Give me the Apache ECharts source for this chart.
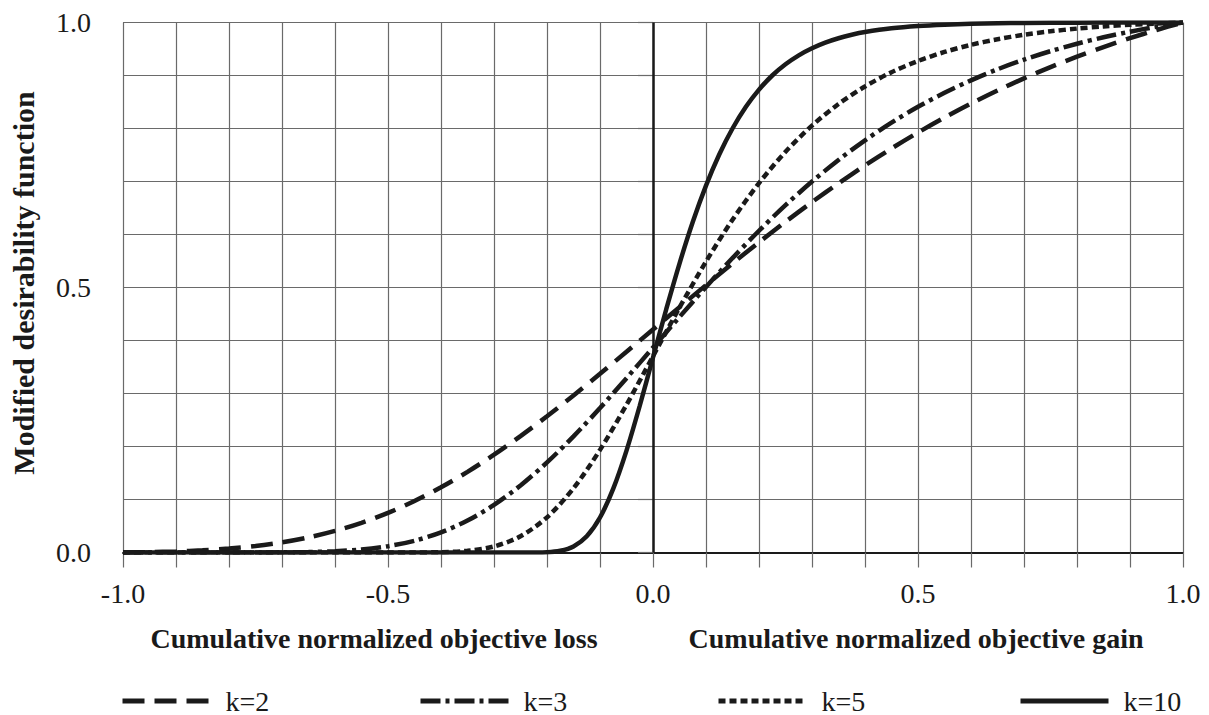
<!DOCTYPE html>
<html>
<head>
<meta charset="utf-8">
<script src="https://cdn.jsdelivr.net/npm/echarts@6/dist/echarts.min.js"></script>
<style>
  html, body { margin: 0; padding: 0; background: #fff; }
  #chart { width: 1209px; height: 715px; }
</style>
</head>
<body>
<div id="chart"></div>
<script>
// ---- data ----
const seriesNames = ['k=2', 'k=3', 'k=5', 'k=10'];
const xs = [-1.0,-0.95,-0.9,-0.85,-0.8,-0.75,-0.7,-0.65,-0.6,-0.55,-0.5,-0.45,-0.4,-0.35,-0.3,-0.25,-0.2,-0.15,-0.1,-0.05,0,
            0.05,0.1,0.15,0.2,0.25,0.3,0.35,0.4,0.45,0.5,0.55,0.6,0.65,0.7,0.75,0.8,0.85,0.9,0.95,1.0];
const k2 = [0,0.0007,0.0020,0.0041,0.0074,0.0123,0.0192,0.0285,0.0407,0.0561,0.0749,0.0972,0.1230,0.1522,0.1845,0.2196,0.2570,0.2964,0.3371,0.3787,0.4208,
            0.4629,0.5045,0.5455,0.5854,0.6240,0.6611,0.6966,0.7303,0.7623,0.7924,0.8206,0.8471,0.8717,0.8946,0.9159,0.9356,0.9537,0.9705,0.9859,1.0];
const k3 = [0,0,0,0,0,0.0001,0.0003,0.0009,0.0025,0.0058,0.0119,0.0222,0.0380,0.0603,0.0898,0.1265,0.1699,0.2191,0.2725,0.3289,0.3867,
            0.4444,0.5011,0.5555,0.6071,0.6554,0.6999,0.7407,0.7777,0.8110,0.8409,0.8674,0.8909,0.9117,0.9299,0.9459,0.9599,0.9721,0.9827,0.9920,1.0];
const k5 = [0,0,0,0,0,0,0,0,0,0,0,0.0001,0.0006,0.0032,0.0114,0.0307,0.0664,0.1212,0.1936,0.2788,0.3704,
            0.4621,0.5489,0.6278,0.6969,0.7560,0.8054,0.8462,0.8793,0.9061,0.9274,0.9444,0.9579,0.9685,0.9768,0.9834,0.9885,0.9925,0.9956,0.9981,1.0];
const xs10 = [-1.0,-0.8,-0.6,-0.4,-0.3,-0.25,-0.2,-0.175,-0.15,-0.125,-0.1,-0.075,-0.05,-0.025,0,
              0.025,0.05,0.075,0.1,0.125,0.15,0.175,0.2,0.225,0.25,0.275,0.3,0.325,0.35,0.375,0.4,
              0.45,0.5,0.55,0.6,0.65,0.7,0.8,0.9,1.0];
const k10 = [0,0,0,0,0,0,0.0006,0.0032,0.0113,0.0305,0.0660,0.1204,0.1923,0.2769,0.3679,
             0.4590,0.5452,0.6235,0.6922,0.7509,0.8000,0.8405,0.8734,0.9000,0.9212,0.9381,0.9514,0.9620,0.9703,0.9768,0.9819,
             0.9890,0.9933,0.9959,0.9975,0.9985,0.9991,0.9997,0.9999,1.0];
const xTickLabels = ['-1.0', '-0.5', '0.0', '0.5', '1.0'];
const yTickLabels = ['0.0', '0.5', '1.0'];
const xTitleLoss = 'Cumulative normalized objective loss';
const xTitleGain = 'Cumulative normalized objective gain';
const yTitle = 'Modified desirability function';

// ---- chart ----
const FONT = "'Liberation Serif', 'Times New Roman', serif";
const INK = '#1a1a1a';
const GRIDC = '#6a6a6a';

function pairs(x, y) { return x.map((v, i) => [v, y[i]]); }
function fmtFrom(list) {
  return function (v) {
    let s = v.toFixed(1);
    if (s === '-0.0') s = '0.0';
    return list.indexOf(s) >= 0 ? s : '';
  };
}

const dashes = {
  'k=2': [22, 10],
  'k=3': [20, 5, 4, 5],
  'k=5': [7, 4],
  'k=10': 'solid'
};
const seriesData = {
  'k=2': pairs(xs, k2),
  'k=3': pairs(xs, k3),
  'k=5': pairs(xs, k5),
  'k=10': pairs(xs10, k10)
};

const series = seriesNames.map((name) => ({
  name: name,
  type: 'line',
  data: seriesData[name],
  showSymbol: false,
  symbol: 'none',
  smooth: 0.3,
  z: 3,
  lineStyle: { color: INK, width: 4.5, type: dashes[name], cap: 'butt' },
  itemStyle: { color: INK }
}));
series[3].markLine = {
  silent: true,
  symbol: ['none', 'none'],
  label: { show: false },
  lineStyle: { color: INK, width: 2.5, type: 'solid' },
  data: [{ xAxis: 0 }],
  z: 2
};

const legendLefts = [120, 418, 716, 1018];
const legends = seriesNames.map((name, i) => ({
  data: [name],
  left: legendLefts[i],
  top: 687,
  padding: 0,
  itemWidth: 88,
  itemHeight: 14,
  selectedMode: false,
  itemStyle: { color: 'rgba(0,0,0,0)', borderWidth: 0, opacity: 0 },
  lineStyle: { color: INK, width: 5, type: dashes[name], cap: 'butt' },
  textStyle: { fontFamily: FONT, fontSize: 28, color: INK, padding: [0, 0, 0, 10] }
}));

const chart = echarts.init(document.getElementById('chart'), null, { renderer: 'svg' });
chart.setOption({
  backgroundColor: '#ffffff',
  animation: false,
  grid: { left: 123, right: 26, top: 22.5, bottom: 162.5 },
  xAxis: {
    type: 'value', min: -1, max: 1, interval: 0.1,
    axisLine: { show: true, onZero: false, lineStyle: { color: INK, width: 2 } },
    axisTick: { show: true, inside: false, length: 15, lineStyle: { color: GRIDC, width: 1.2 } },
    splitLine: { show: true, lineStyle: { color: GRIDC, width: 1.2 } },
    axisLabel: { margin: 27, fontFamily: FONT, fontSize: 28, color: INK, formatter: fmtFrom(xTickLabels) }
  },
  yAxis: {
    type: 'value', min: 0, max: 1, interval: 0.1,
    axisLine: { show: false },
    axisTick: { show: true, inside: false, length: 15, lineStyle: { color: GRIDC, width: 1.2 } },
    splitLine: { show: true, lineStyle: { color: GRIDC, width: 1.2 } },
    axisLabel: { margin: 32, fontFamily: FONT, fontSize: 28, color: INK, formatter: fmtFrom(yTickLabels) }
  },
  legend: legends,
  graphic: [
    { type: 'text', x: 374, y: 638, style: { text: xTitleLoss, font: "bold 28px " + FONT, fill: INK, textAlign: 'center', textVerticalAlign: 'middle' } },
    { type: 'text', x: 916, y: 638, style: { text: xTitleGain, font: "bold 28px " + FONT, fill: INK, textAlign: 'center', textVerticalAlign: 'middle' } },
    { type: 'text', x: 23, y: 283, rotation: Math.PI / 2, style: { text: yTitle, font: "bold 30px " + FONT, fill: INK, textAlign: 'center', textVerticalAlign: 'middle' } }
  ],
  series: series
});
</script>
</body>
</html>
